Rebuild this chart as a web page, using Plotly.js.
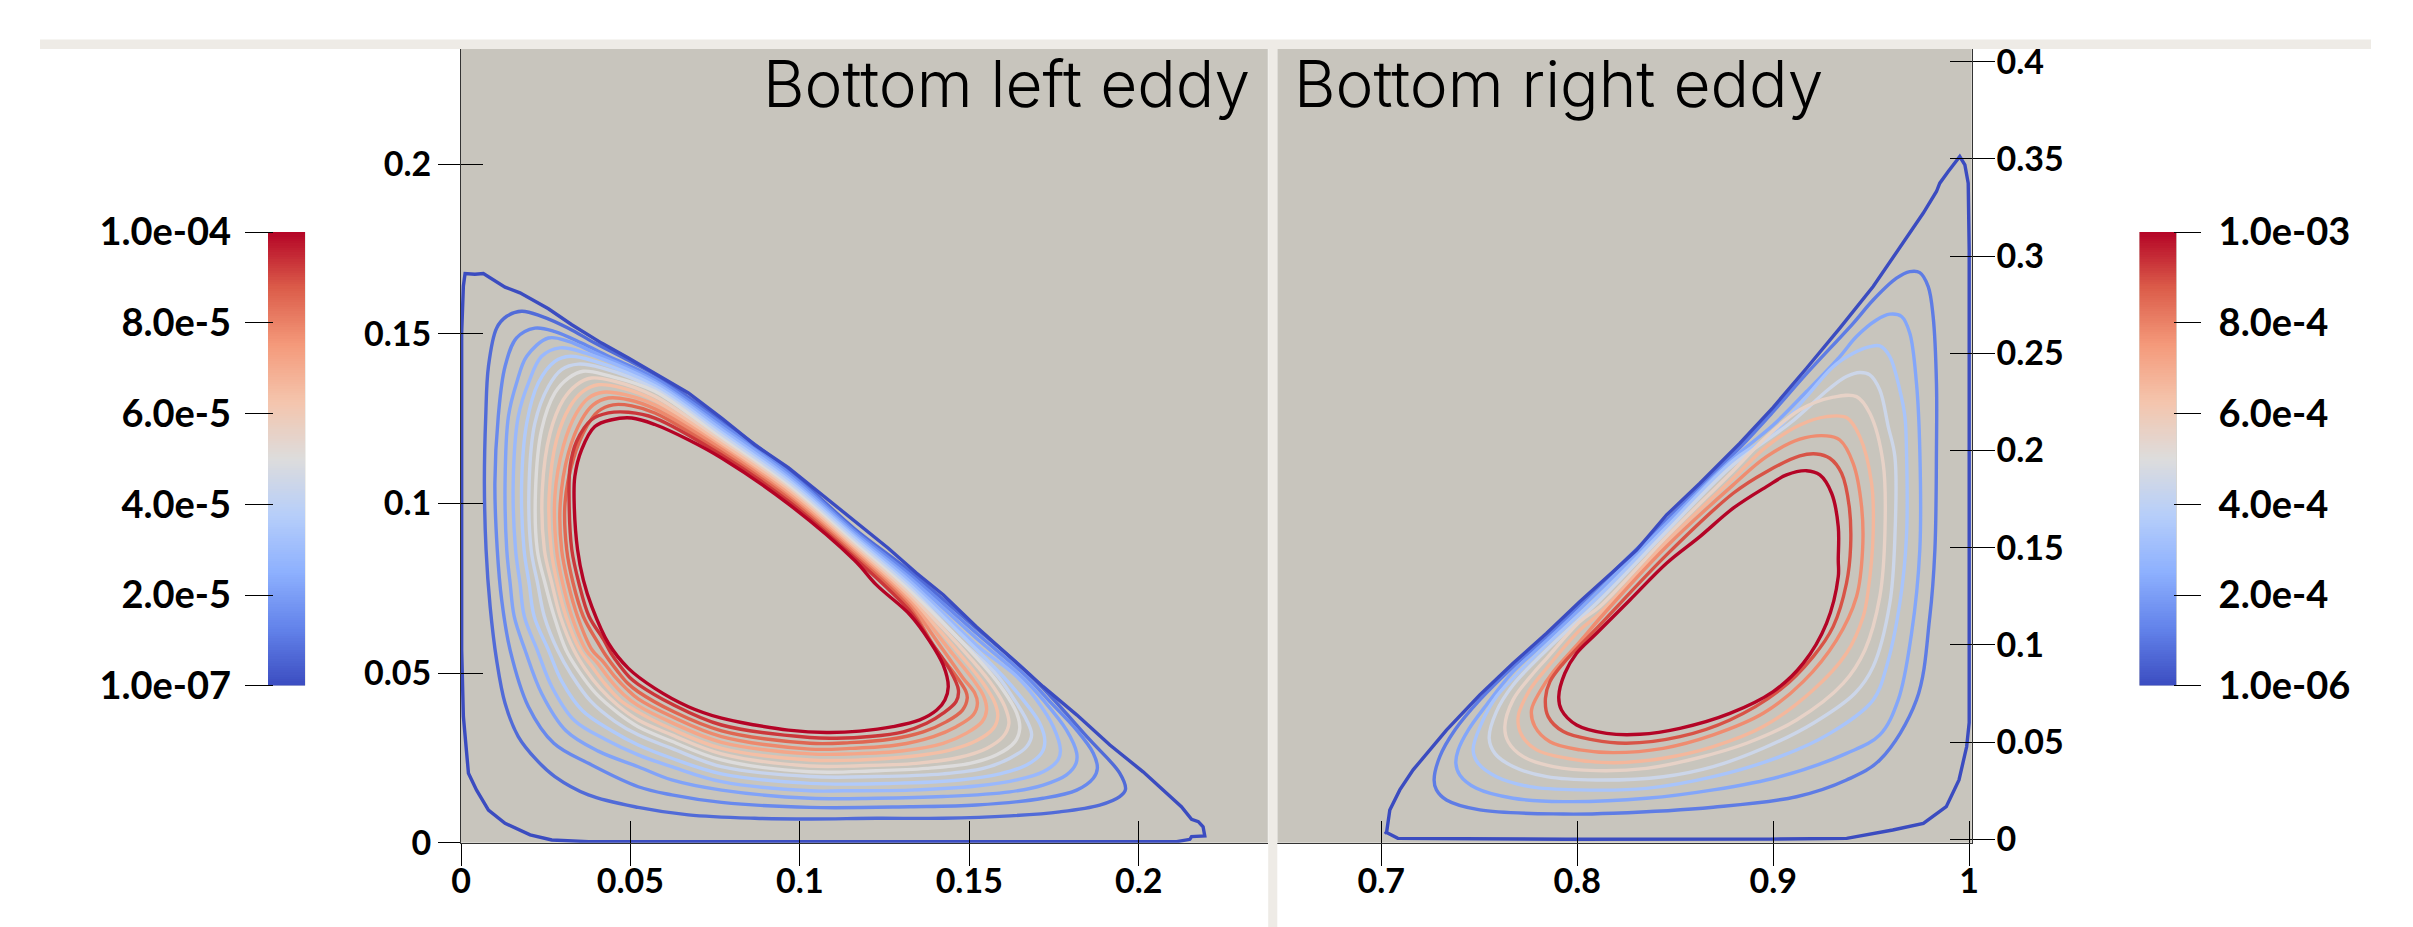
<!DOCTYPE html>
<html><head><meta charset="utf-8">
<script src="https://cdn.plot.ly/plotly-3.0.1.min.js"></script>
<style>html,body{margin:0;padding:0;background:#fff}</style></head>
<body><div id="chart" style="width:2413px;height:927px"></div>
<script>
// Contour levels
const levelsLeft = [1e-7,7.2e-6,1.44e-5,2.15e-5,2.86e-5,3.58e-5,4.29e-5,5.0e-5,5.72e-5,6.43e-5,7.15e-5,7.86e-5,8.57e-5,9.29e-5,1e-4];
const levelsRight = [1e-6,1.12e-4,2.23e-4,3.34e-4,4.45e-4,5.56e-4,6.67e-4,7.78e-4,8.89e-4,1e-3];

// Bottom-left eddy contours
const bl0x=[.0002,.0002,.0007,.0022,.0046,.0081,.0130,.0204,.0268,.0376,.0769,.1128,.1521,.1817,.2112,.2151,.2156,.2195,.2190,.2176,.2156,.2126,.2072,.2013,.1915,.1817,.1718,.1620,.1521,.1423,.1344,.1261,.1064,.0966,.0867,.0769,.0671,.0572,.0494,.0415,.0327,.0258,.0174,.0130,.0066,.0041,.0012,.0007,.0002,.0002];
const bl0y=[.0864,.0568,.0372,.0205,.0155,.0096,.0057,.0023,.0008,.0003,.0003,.0003,.0003,.0003,.0003,.0010,.0018,.0020,.0047,.0062,.0069,.0106,.0155,.0209,.0288,.0377,.0460,.0549,.0637,.0731,.0795,.0868,.1026,.1106,.1173,.1252,.1326,.1385,.1429,.1473,.1527,.1574,.1621,.1638,.1678,.1676,.1678,.1641,.1503,.0864];
const bl1x=[.0074,.0069,.0073,.0081,.0105,.0135,.0179,.0238,.0317,.0395,.0494,.0572,.0769,.0966,.1162,.1325,.1521,.1679,.1856,.1944,.1961,.1944,.1885,.1767,.1620,.1423,.1226,.1030,.0867,.0671,.0523,.0376,.0277,.0223,.0169,.0130,.0105,.0086,.0074];
const bl1y=[.0864,.1060,.1257,.1404,.1517,.1552,.1567,.1552,.1517,.1473,.1422,.1380,.1244,.1099,.0925,.0800,.0632,.0495,.0303,.0205,.0157,.0136,.0111,.0091,.0079,.0072,.0072,.0070,.0072,.0082,.0104,.0141,.0195,.0244,.0313,.0411,.0539,.0696,.0864];
const bl2x=[.0107,.0100,.0110,.0130,.0164,.0218,.0277,.0356,.0435,.0572,.0769,.0966,.1162,.1325,.1521,.1669,.1738,.1817,.1866,.1878,.1866,.1817,.1718,.1521,.1325,.1030,.0769,.0622,.0523,.0376,.0274,.0199,.0145,.0120,.0107];
const bl2y=[.0864,.1060,.1257,.1404,.1488,.1517,.1507,.1473,.1434,.1370,.1235,.1091,.0919,.0790,.0618,.0490,.0416,.0332,.0264,.0219,.0190,.0155,.0131,.0111,.0106,.0104,.0119,.0141,.0165,.0234,.0293,.0401,.0568,.0716,.0864];
const bl3x=[.0135,.0130,.0140,.0164,.0194,.0258,.0317,.0395,.0572,.0769,.0966,.1162,.1325,.1521,.1659,.1718,.1787,.1817,.1815,.1787,.1718,.1620,.1423,.1226,.1030,.0769,.0622,.0523,.0405,.0310,.0238,.0189,.0157,.0145,.0135];
const bl3y=[.0864,.1060,.1257,.1355,.1434,.1488,.1478,.1444,.1362,.1226,.1084,.0912,.0780,.0603,.0485,.0421,.0332,.0264,.0234,.0200,.0170,.0150,.0136,.0131,.0131,.0155,.0185,.0224,.0270,.0330,.0440,.0568,.0667,.0765,.0864];
const bl4x=[.0161,.0154,.0169,.0199,.0238,.0292,.0366,.0572,.0769,.0966,.1162,.1325,.1521,.1640,.1699,.1748,.1769,.1762,.1718,.1640,.1521,.1325,.1128,.1030,.0769,.0622,.0523,.0425,.0335,.0268,.0225,.0187,.0174,.0161];
const bl4y=[.0864,.1060,.1257,.1355,.1434,.1459,.1444,.1355,.1218,.1076,.0905,.0770,.0583,.0490,.0421,.0342,.0273,.0244,.0209,.0185,.0167,.0155,.0153,.0153,.0180,.0224,.0259,.0305,.0360,.0460,.0568,.0667,.0765,.0864];
const bl5x=[.0186,.0179,.0194,.0228,.0277,.0322,.0395,.0572,.0769,.0966,.1162,.1325,.1472,.1600,.1659,.1708,.1723,.1713,.1669,.1590,.1472,.1275,.1030,.0769,.0622,.0523,.0445,.0358,.0298,.0258,.0216,.0201,.0186];
const bl5y=[.0864,.1060,.1237,.1355,.1419,.1434,.1419,.1347,.1209,.1068,.0898,.0760,.0618,.0490,.0421,.0352,.0298,.0264,.0229,.0203,.0185,.0175,.0175,.0203,.0249,.0288,.0330,.0390,.0475,.0568,.0667,.0765,.0864];
const bl6x=[.0207,.0201,.0218,.0258,.0297,.0346,.0415,.0572,.0769,.0966,.1162,.1325,.1462,.1581,.1630,.1669,.1684,.1669,.1620,.1541,.1423,.1226,.1030,.0769,.0622,.0523,.0454,.0382,.0326,.0285,.0246,.0226,.0207];
const bl6y=[.0864,.1060,.1237,.1345,.1395,.1411,.1400,.1338,.1201,.1060,.0890,.0750,.0608,.0495,.0426,.0362,.0318,.0283,.0249,.0219,.0203,.0195,.0195,.0224,.0278,.0318,.0358,.0418,.0495,.0568,.0667,.0765,.0864];
const bl7x=[.0225,.0220,.0238,.0277,.0317,.0361,.0435,.0572,.0769,.0966,.1162,.1325,.1541,.1600,.1640,.1649,.1635,.1581,.1502,.1374,.1226,.1030,.0769,.0622,.0523,.0464,.0398,.0348,.0310,.0275,.0248,.0225];
const bl7y=[.0864,.1041,.1218,.1326,.1370,.1390,.1377,.1331,.1192,.1052,.0882,.0741,.0524,.0450,.0382,.0337,.0298,.0259,.0234,.0219,.0212,.0209,.0244,.0299,.0342,.0382,.0440,.0505,.0568,.0667,.0765,.0864];
const bl8x=[.0246,.0240,.0263,.0302,.0341,.0385,.0454,.0572,.0769,.0966,.1162,.1325,.1512,.1571,.1605,.1617,.1600,.1551,.1472,.1344,.1177,.1030,.0769,.0622,.0523,.0465,.0411,.0368,.0333,.0293,.0268,.0246];
const bl8y=[.0864,.1041,.1208,.1306,.1350,.1370,.1360,.1316,.1184,.1045,.0875,.0731,.0534,.0460,.0401,.0352,.0313,.0278,.0252,.0234,.0227,.0226,.0262,.0318,.0362,.0403,.0455,.0510,.0568,.0667,.0765,.0864];
const bl9x=[.0266,.0260,.0282,.0322,.0361,.0405,.0474,.0572,.0769,.0966,.1162,.1325,.1482,.1541,.1576,.1584,.1571,.1522,.1443,.1325,.1177,.1030,.0769,.0622,.0523,.0470,.0425,.0386,.0351,.0310,.0284,.0266];
const bl9y=[.0864,.1021,.1188,.1286,.1331,.1350,.1341,.1304,.1176,.1038,.0867,.0721,.0544,.0470,.0411,.0372,.0337,.0301,.0273,.0254,.0244,.0244,.0278,.0335,.0385,.0420,.0468,.0520,.0568,.0667,.0765,.0864];
const bl10x=[.0282,.0277,.0302,.0341,.0376,.0420,.0484,.0572,.0769,.0966,.1162,.1325,.1453,.1512,.1543,.1551,.1538,.1492,.1423,.1305,.1158,.1030,.0769,.0622,.0523,.0480,.0440,.0402,.0369,.0327,.0300,.0282];
const bl10y=[.0864,.1021,.1169,.1267,.1311,.1328,.1321,.1291,.1167,.1030,.0860,.0711,.0554,.0480,.0431,.0391,.0357,.0323,.0293,.0271,.0262,.0262,.0296,.0354,.0404,.0437,.0480,.0530,.0568,.0667,.0765,.0864];
const bl11x=[.0297,.0293,.0317,.0356,.0390,.0435,.0494,.0572,.0769,.0966,.1162,.1325,.1423,.1482,.1516,.1524,.1512,.1462,.1394,.1286,.1148,.1030,.0769,.0622,.0523,.0490,.0452,.0418,.0387,.0344,.0316,.0297];
const bl11y=[.0864,.1001,.1149,.1247,.1291,.1311,.1306,.1279,.1160,.1022,.0853,.0701,.0568,.0485,.0441,.0411,.0377,.0342,.0313,.0288,.0278,.0276,.0313,.0372,.0424,.0452,.0492,.0535,.0568,.0667,.0765,.0864];
const bl12x=[.0312,.0307,.0331,.0371,.0405,.0449,.0504,.0572,.0769,.0966,.1162,.1325,.1403,.1462,.1490,.1494,.1480,.1433,.1364,.1266,.1148,.1030,.0769,.0622,.0523,.0492,.0460,.0430,.0404,.0361,.0331,.0312];
const bl12y=[.0864,.1001,.1129,.1227,.1272,.1291,.1288,.1267,.1151,.1015,.0846,.0691,.0568,.0490,.0446,.0426,.0391,.0357,.0327,.0305,.0295,.0293,.0330,.0389,.0445,.0470,.0508,.0548,.0590,.0667,.0765,.0864];
const bl13x=[.0327,.0319,.0322,.0341,.0385,.0435,.0494,.0572,.0769,.0966,.1162,.1325,.1379,.1443,.1468,.1461,.1423,.1374,.1305,.1207,.1108,.1030,.0769,.0622,.0523,.0498,.0470,.0443,.0420,.0378,.0348,.0327];
const bl13y=[.0864,.1011,.1109,.1183,.1247,.1267,.1269,.1252,.1143,.1007,.0839,.0682,.0603,.0509,.0450,.0416,.0382,.0352,.0327,.0313,.0308,.0310,.0347,.0409,.0467,.0487,.0520,.0558,.0600,.0667,.0765,.0864];
const bl14x=[.0344,.0334,.0336,.0356,.0395,.0445,.0504,.0572,.0671,.0769,.0966,.1162,.1226,.1325,.1384,.1423,.1438,.1428,.1404,.1354,.1275,.1177,.1079,.0966,.0867,.0769,.0671,.0572,.0494,.0435,.0386,.0361,.0344];
const bl14y=[.0864,.1001,.1080,.1159,.1227,.1247,.1252,.1233,.1188,.1134,.0999,.0832,.0760,.0672,.0593,.0524,.0460,.0421,.0391,.0362,.0342,.0329,.0325,.0332,.0347,.0367,.0401,.0455,.0514,.0588,.0696,.0775,.0864];

// Bottom-right eddy contours
const br0x=[1,.9987,.9948,.9883,.9766,.9610,.9375,.8984,.7943,.7162,.7085,.7020,.7027,.7044,.7095,.7163,.7248,.7333,.7503,.7673,.7844,.8014,.8184,.8303,.8456,.8626,.8830,.9000,.9170,.9340,.9510,.9680,.9765,.9833,.9850,.9893,.9918,.9952,.9978,.9995,1,1,1];
const br0y=[.0600,.0476,.0305,.0168,.0082,.0048,.0005,.0001,0,.0001,.0005,.0039,.0031,.0151,.0254,.0357,.0460,.0562,.0742,.0905,.1060,.1223,.1377,.1488,.1668,.1831,.2037,.2222,.2423,.2629,.2843,.3092,.3220,.3332,.3375,.3435,.3469,.3512,.3469,.3375,.3032,.2003,.0600];
const br1x=[.7270,.7282,.7333,.7503,.7929,.8184,.8694,.9119,.9374,.9544,.9731,.9799,.9825,.9833,.9833,.9816,.9791,.9748,.9697,.9629,.9510,.9408,.9170,.9000,.8830,.8456,.8116,.7844,.7673,.7503,.7376,.7299];
const br1y=[.0305,.0254,.0202,.0151,.0130,.0134,.0165,.0219,.0305,.0408,.0717,.1145,.1488,.2003,.2346,.2689,.2843,.2915,.2920,.2886,.2774,.2654,.2395,.2200,.2015,.1643,.1308,.1039,.0888,.0717,.0562,.0425];
const br2x=[.7381,.7401,.7486,.7673,.7929,.8354,.8694,.9034,.9374,.9544,.9638,.9706,.9748,.9748,.9731,.9697,.9655,.9595,.9527,.9425,.9340,.9170,.9000,.8796,.8456,.8116,.7844,.7673,.7537,.7444,.7393];
const br2y=[.0391,.0331,.0262,.0211,.0194,.0211,.0254,.0322,.0442,.0537,.0717,.1060,.1488,.2003,.2346,.2603,.2689,.2701,.2671,.2586,.2483,.2303,.2131,.1960,.1626,.1283,.1022,.0862,.0691,.0562,.0460];
const br3x=[.7469,.7495,.7588,.7758,.8014,.8354,.8694,.9034,.9289,.9510,.9578,.9646,.9680,.9680,.9672,.9646,.9595,.9544,.9493,.9408,.9306,.9170,.9000,.8796,.8456,.8116,.7844,.7673,.7588,.7512];
const br3y=[.0460,.0391,.0322,.0271,.0254,.0262,.0322,.0425,.0545,.0717,.0888,.1214,.1557,.2003,.2174,.2311,.2483,.2538,.2534,.2500,.2431,.2277,.2089,.1948,.1605,.1257,.1000,.0828,.0734,.0597];
const br4x=[.7551,.7580,.7673,.7844,.8099,.8439,.8694,.8949,.9204,.9417,.9510,.9595,.9621,.9621,.9587,.9544,.9493,.9442,.9374,.9289,.9085,.8796,.8456,.8116,.7844,.7673,.7588];
const br4y=[.0520,.0442,.0374,.0322,.0305,.0322,.0374,.0468,.0597,.0751,.0888,.1214,.1557,.1968,.2123,.2311,.2389,.2401,.2380,.2320,.2140,.1926,.1583,.1231,.0974,.0794,.0657];
const br5x=[.7631,.7648,.7725,.7878,.8099,.8354,.8609,.8864,.9119,.9357,.9468,.9544,.9570,.9561,.9493,.9425,.9306,.9136,.8966,.8796,.8456,.8116,.8014,.7844,.7776,.7673];
const br5y=[.0580,.0502,.0425,.0374,.0353,.0365,.0417,.0494,.0614,.0802,.0974,.1248,.1574,.1934,.2191,.2277,.2274,.2209,.2071,.1896,.1557,.1197,.1120,.0931,.0854,.0717];
const br6x=[.7699,.7716,.7793,.7946,.8184,.8439,.8694,.8949,.9204,.9374,.9459,.9485,.9510,.9502,.9442,.9374,.9272,.9136,.8966,.8796,.8456,.8116,.8014,.7844,.7758];
const br6y=[.0631,.0537,.0460,.0417,.0394,.0417,.0477,.0580,.0768,.0957,.1145,.1283,.1574,.1831,.2071,.2169,.2174,.2131,.2020,.1857,.1531,.1163,.1077,.0880,.0768];
const br7x=[.7767,.7784,.7861,.8014,.8184,.8439,.8694,.8949,.9153,.9323,.9425,.9456,.9451,.9408,.9340,.9272,.9136,.8966,.8796,.8456,.8116,.8014,.7878,.7810];
const br7y=[.0665,.0580,.0502,.0460,.0446,.0468,.0537,.0648,.0811,.1025,.1248,.1488,.1711,.1934,.2054,.2075,.2058,.1968,.1823,.1506,.1137,.1017,.0862,.0760];
const br8x=[.7838,.7852,.7929,.8082,.8252,.8524,.8779,.9034,.9204,.9306,.9374,.9395,.9388,.9349,.9289,.9221,.9136,.8966,.8796,.8456,.8116,.7929,.7861];
const br8y=[.0725,.0631,.0554,.0511,.0494,.0528,.0614,.0768,.0940,.1094,.1317,.1506,.1711,.1883,.1960,.1982,.1972,.1891,.1780,.1463,.1103,.0905,.0811];
const br9x=[.7906,.7920,.7997,.8150,.8320,.8524,.8779,.9000,.9153,.9272,.9332,.9332,.9332,.9298,.9238,.9170,.9068,.8966,.8796,.8626,.8456,.8269,.8099,.7997,.7937];
const br9y=[.0734,.0665,.0588,.0545,.0540,.0571,.0648,.0760,.0905,.1111,.1351,.1437,.1608,.1780,.1874,.1896,.1874,.1814,.1703,.1557,.1420,.1231,.1060,.0957,.0854];

// Axis ticks
const leftTicksX=[0,.05,.1,.15,.2], leftTickTextX=['0','0.05','0.1','0.15','0.2'];
const leftTicksY=[0,.05,.1,.15,.2], leftTickTextY=['0','0.05','0.1','0.15','0.2'];
const rightTicksX=[.7,.8,.9,1], rightTickTextX=['0.7','0.8','0.9','1'];
const rightTicksY=[0,.05,.1,.15,.2,.25,.3,.35,.4], rightTickTextY=['0','0.05','0.1','0.15','0.2','0.25','0.3','0.35','0.4'];
// Colour bars
const leftBarTicks=[1e-7,2e-5,4e-5,6e-5,8e-5,1e-4], leftBarText=['1.0e-07','2.0e-5','4.0e-5','6.0e-5','8.0e-5','1.0e-04'];
const rightBarTicks=[1e-6,2e-4,4e-4,6e-4,8e-4,1e-3], rightBarText=['1.0e-06','2.0e-4','4.0e-4','6.0e-4','8.0e-4','1.0e-03'];
const coolwarm=[[0,'#3b4cc0'],[.125,'#6282ea'],[.25,'#8db0fe'],[.375,'#b6cefa'],[.5,'#dddcdc'],[.625,'#f4c5ad'],[.75,'#f49a7b'],[.875,'#dc5d4a'],[1,'#b40426']];

function hexRgb(h){return [1,3,5].map(i=>parseInt(h.substr(i,2),16));}
function colorAt(t){
  for(let k=1;k<coolwarm.length;k++){
    if(t<=coolwarm[k][0]+1e-9){
      const a=coolwarm[k-1],b=coolwarm[k],f=(t-a[0])/(b[0]-a[0]);
      const A=hexRgb(a[1]),B=hexRgb(b[1]);
      return 'rgb('+A.map((v,i)=>Math.round(v+(B[i]-v)*f)).join(',')+')';
    }
  }
  return coolwarm[coolwarm.length-1][1];
}

const W=2413,H=927;
const px=v=>v/W, py=v=>(H-v)/H;
const leftC=[[bl0x,bl0y],[bl1x,bl1y],[bl2x,bl2y],[bl3x,bl3y],[bl4x,bl4y],[bl5x,bl5y],[bl6x,bl6y],[bl7x,bl7y],[bl8x,bl8y],[bl9x,bl9y],[bl10x,bl10y],[bl11x,bl11y],[bl12x,bl12y],[bl13x,bl13y],[bl14x,bl14y]];
const rightC=[[br0x,br0y],[br1x,br1y],[br2x,br2y],[br3x,br3y],[br4x,br4y],[br5x,br5y],[br6x,br6y],[br7x,br7y],[br8x,br8y],[br9x,br9y]];
const traces=[];
function closed(a,b){
  const n=a.length-1;
  return (a[0]===a[n]&&b[0]===b[n])?[a,b]:[a.concat(a[0]),b.concat(b[0])];
}
function addContours(list,levels,xa,ya,xo,yo){
  const lo=levels[0],hi=levels[levels.length-1];
  list.forEach((c,i)=>{
    const p=closed(c[0],c[1]);
    traces.push({type:'scatter',mode:'lines',x:p[0],y:p[1],
      xaxis:i===0?xo:xa,yaxis:i===0?yo:ya,
      hoverinfo:'skip',showlegend:false,
      line:{color:colorAt((levels[i]-lo)/(hi-lo)),width:3.4,shape:i===0?'linear':'spline',smoothing:1}});
  });
}
addContours(leftC,levelsLeft,'x','y','x3','y3');
addContours(rightC,levelsRight,'x2','y2','x4','y4');

function barTrace(lo,hi,xa,ya){
  const n=200,y=[],z=[];
  for(let k=0;k<n;k++){const v=lo+(hi-lo)*(k+.5)/n;y.push(v);z.push([v]);}
  return {type:'heatmap',x:[0],y:y,z:z,zmin:lo,zmax:hi,colorscale:coolwarm,showscale:false,hoverinfo:'skip',xaxis:xa,yaxis:ya};
}
traces.push(barTrace(1e-7,1e-4,'x5','y5'));
traces.push(barTrace(1e-6,1e-3,'x6','y6'));

const tickFont={family:'Lato, sans-serif',size:34,color:'#000',weight:700};
const barFont={family:'Lato, sans-serif',size:38,color:'#000',weight:700};
const titleFont={family:'Inter, sans-serif',size:64,color:'#000',weight:300};
const bg='#c8c5bd', band='#eeebe6', axisLine='#333';
const rangeLX=[0,.2381], rangeLY=[0,.234], rangeRX=[.647,1.00128], rangeRY=[-.00175,.4065];
const domLX=[px(461),px(1267.8)], domRX=[px(1277.3),px(1971.7)], domY=[py(842.7),py(49)];
const baseX=(r,d,tv,tt,extra)=>Object.assign({range:r,domain:d,tickmode:'array',tickvals:tv,ticktext:tt,ticks:'outside',ticklen:22,tickwidth:1,tickcolor:'#000',tickfont:tickFont,showgrid:false,zeroline:false,showline:true,linecolor:axisLine,linewidth:1,fixedrange:true},extra);
const insideAxis=(r,tv,extra)=>Object.assign({range:r,tickmode:'array',tickvals:tv,ticks:'inside',ticklen:22,tickwidth:1,tickcolor:'#000',showticklabels:false,showgrid:false,zeroline:false,showline:false,fixedrange:true},extra);

const layout={
  width:W,height:H,autosize:false,margin:{l:0,r:0,t:0,b:0,pad:0},
  paper_bgcolor:'#fff',plot_bgcolor:bg,showlegend:false,
  xaxis:baseX(rangeLX,domLX,leftTicksX,leftTickTextX,{anchor:'y',ticklabelstandoff:-14}),
  yaxis:baseX(rangeLY,domY,leftTicksY,leftTickTextY,{anchor:'x',side:'left'}),
  xaxis2:baseX(rangeRX,domRX,rightTicksX,rightTickTextX,{anchor:'y2',ticklabelstandoff:-14}),
  yaxis2:baseX(rangeRY,domY,rightTicksY,rightTickTextY,{anchor:'x2',side:'right',ticklabelstandoff:-5}),
  xaxis3:insideAxis(rangeLX,leftTicksX,{overlaying:'x',anchor:'y3',domain:domLX}),
  yaxis3:insideAxis(rangeLY,leftTicksY,{overlaying:'y',anchor:'x3',side:'left',domain:domY}),
  xaxis4:insideAxis(rangeRX,rightTicksX,{overlaying:'x2',anchor:'y4',domain:domRX}),
  yaxis4:insideAxis(rangeRY,rightTicksY,{overlaying:'y2',anchor:'x4',side:'right',domain:domY}),
  xaxis5:{domain:[px(268),px(305.3)],range:[-.5,.5],visible:false,anchor:'y5',fixedrange:true},
  yaxis5:{domain:[py(685.5),py(232)],range:[1e-7,1e-4],anchor:'free',position:px(272.7),side:'left',tickmode:'array',tickvals:leftBarTicks,ticktext:leftBarText,ticks:'outside',ticklen:28,tickwidth:1,tickcolor:'#000',tickfont:barFont,ticklabelstandoff:6,showgrid:false,zeroline:false,showline:false,fixedrange:true},
  xaxis6:{domain:[px(2139.3),px(2176.7)],range:[-.5,.5],visible:false,anchor:'y6',fixedrange:true},
  yaxis6:{domain:[py(685.5),py(232)],range:[1e-6,1e-3],anchor:'free',position:px(2173),side:'right',tickmode:'array',tickvals:rightBarTicks,ticktext:rightBarText,ticks:'outside',ticklen:27,tickwidth:1,tickcolor:'#000',tickfont:barFont,ticklabelstandoff:10,showgrid:false,zeroline:false,showline:false,fixedrange:true},
  shapes:[
    {type:'rect',xref:'paper',yref:'paper',x0:px(40),x1:px(2371),y0:py(49),y1:py(39.5),fillcolor:band,line:{width:0},layer:'above'},
    {type:'rect',xref:'paper',yref:'paper',x0:px(1268.2),x1:px(1277.3),y0:py(927),y1:py(49),fillcolor:band,line:{width:0},layer:'above'}
  ],
  annotations:[
    {xref:'paper',yref:'paper',x:px(1251.5),y:py(43),xanchor:'right',yanchor:'top',showarrow:false,text:'Bottom left eddy',font:titleFont},
    {xref:'paper',yref:'paper',x:px(1291.5),y:py(43),xanchor:'left',yanchor:'top',showarrow:false,text:'Bottom right eddy',font:titleFont}
  ]
};
Plotly.newPlot('chart',traces,layout,{displayModeBar:false,staticPlot:true});
</script></body></html>
